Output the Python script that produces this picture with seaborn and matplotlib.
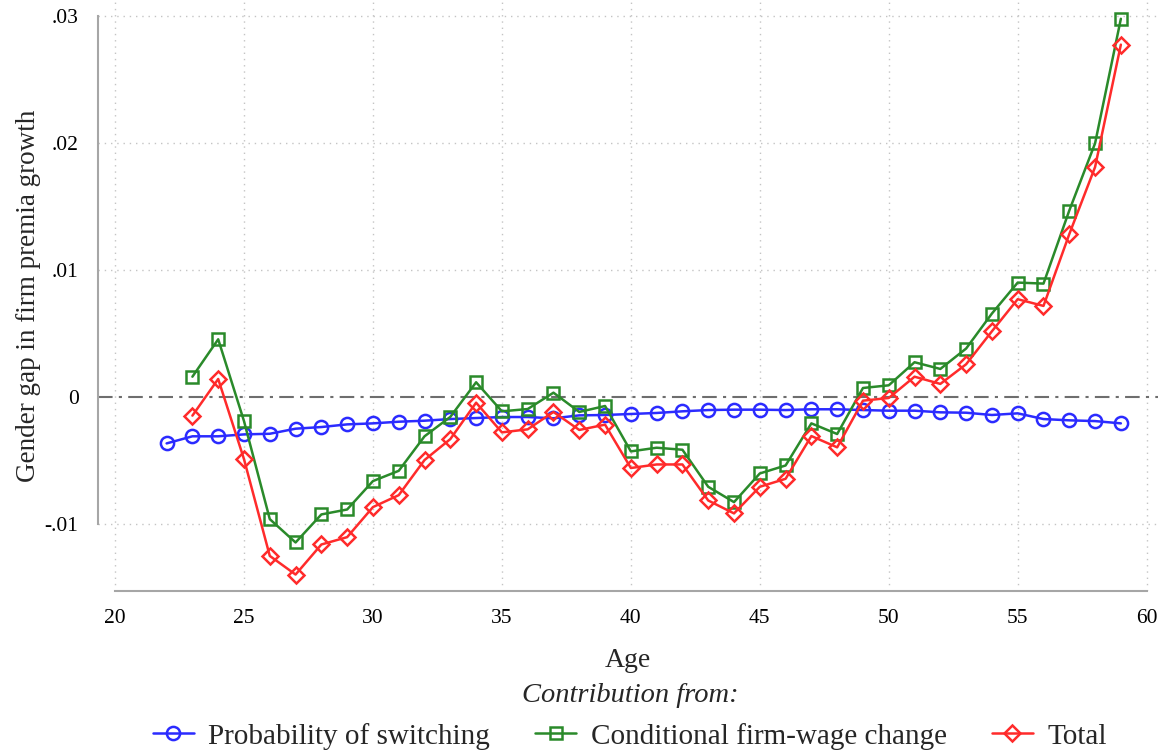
import matplotlib
matplotlib.use("Agg")
import matplotlib.pyplot as plt
from matplotlib.ticker import FuncFormatter
import pandas as pd
import seaborn as sns

# Decomposition of the gender gap in firm-premia growth by age
ages_switch = list(range(22, 60))
ages_cond = list(range(23, 60))

prob_switching = [
    -0.00366, -0.00310, -0.00310, -0.00295, -0.00290, -0.00250, -0.00237, -0.00216,
    -0.00208, -0.00195, -0.00187, -0.00174, -0.00166, -0.00158, -0.00158, -0.00168,
    -0.00145, -0.00142, -0.00134, -0.00126, -0.00113, -0.00103, -0.00100, -0.00100,
    -0.00103, -0.00097, -0.00097, -0.00103, -0.00108, -0.00108, -0.00121, -0.00124,
    -0.00142, -0.00129, -0.00174, -0.00184, -0.00190, -0.00208,
]
cond_wage_change = [
    0.00160, 0.00455, -0.00190, -0.00963, -0.01147, -0.00926, -0.00887, -0.00663,
    -0.00582, -0.00310, -0.00157, 0.00116, -0.00113, -0.00095, 0.00034, -0.00118,
    -0.00071, -0.00429, -0.00400, -0.00416, -0.00708, -0.00829, -0.00603, -0.00540,
    -0.00208, -0.00292, 0.00071, 0.00092, 0.00274, 0.00221, 0.00382, 0.00658,
    0.00902, 0.00894, 0.01470, 0.02000, 0.02982,
]
total = [
    -0.00147, 0.00142, -0.00490, -0.01253, -0.01400, -0.01163, -0.01105, -0.00868,
    -0.00774, -0.00497, -0.00332, -0.00045, -0.00279, -0.00255, -0.00118, -0.00260,
    -0.00218, -0.00560, -0.00532, -0.00532, -0.00816, -0.00918, -0.00708, -0.00645,
    -0.00308, -0.00397, -0.00029, -0.00008, 0.00160, 0.00103, 0.00258, 0.00518,
    0.00771, 0.00718, 0.01284, 0.01813, 0.02778,
]

series_labels = ["Probability of switching", "Conditional firm-wage change", "Total"]
x_ticks = [20, 25, 30, 35, 40, 45, 50, 55, 60]
y_ticks = [-0.01, 0.0, 0.01, 0.02, 0.03]

sns.set_theme(style="white")
plt.rcParams["font.family"] = ["Liberation Serif", "DejaVu Serif"]

fig = plt.figure(figsize=(11.6, 7.51), dpi=100)
ax = fig.add_axes([0.0845, 0.213, 0.914, 0.787])

df_switch = pd.DataFrame({"age": ages_switch, "value": prob_switching})
df_cond = pd.DataFrame({"age": ages_cond, "value": cond_wage_change})
df_total = pd.DataFrame({"age": ages_cond, "value": total})

styles = [
    (df_switch, "#2b2bff", "o", 9.5, series_labels[0]),
    (df_cond, "#2a8a2a", "s", 9.0, series_labels[1]),
    (df_total, "#ff2b2b", "D", 8.5, series_labels[2]),
]

# reference line at zero, underneath the series
ax.axhline(0, color="#6e6e6e", lw=1.5, ls=(0, (7, 3, 1.5, 3)), zorder=1.5)

for data, color, marker, msize, label in styles:
    sns.lineplot(
        data=data, x="age", y="value", ax=ax, color=color, lw=1.8,
        marker=marker, markersize=msize, markerfacecolor="none",
        markeredgecolor=color, markeredgewidth=1.8, label=label, zorder=3,
    )

ax.set_xlim(19.34, 60.45)
ax.set_ylim(-0.0153, 0.0313)
ax.set_xticks(x_ticks)
ax.set_yticks(y_ticks)

def strip_zero(v, pos):
    if abs(v) < 1e-12:
        return "0"
    s = f"{v:.2f}"
    return s.replace("0.", ".", 1)

ax.yaxis.set_major_formatter(FuncFormatter(strip_zero))
ax.xaxis.set_major_formatter(FuncFormatter(lambda v, p: f"{int(v)}"))

# dotted grid
for xv in x_ticks:
    ax.axvline(xv, color="#c4c4c4", lw=1.0, ls=(0, (1, 3.5)), zorder=0.5)
for yv in y_ticks:
    if yv != 0:
        ax.axhline(yv, color="#c4c4c4", lw=1.0, ls=(0, (1, 3.5)), zorder=0.5)

for side in ["top", "right"]:
    ax.spines[side].set_visible(False)
for side in ["left", "bottom"]:
    ax.spines[side].set_color("#a6a6a6")
    ax.spines[side].set_linewidth(1.5)
ax.spines["left"].set_bounds(-0.01, 0.03)
ax.spines["bottom"].set_bounds(20, 60)

ax.tick_params(axis="both", which="both", direction="out", length=10, width=1.5,
               color="#a6a6a6", labelsize=15.5, labelcolor="black")
ax.tick_params(axis="x", pad=3)
ax.tick_params(axis="y", pad=4)

ax.set_ylabel("Gender gap in firm premia growth", fontsize=19.5, labelpad=3)
ax.set_xlabel("Age", fontsize=20)
ax.xaxis.set_label_coords(0.5, -0.097)

handles, labels = ax.get_legend_handles_labels()
ax.get_legend().remove()
leg = fig.legend(
    handles, labels, loc="lower center", bbox_to_anchor=(0.543, -0.033), ncol=3,
    frameon=False, fontsize=21, title="Contribution from:",
    title_fontproperties={"size": 20.5, "style": "italic", "family": "Liberation Serif"},
    handlelength=1.4, columnspacing=1.55, handletextpad=0.5,
)

fig.savefig("out.png", dpi=100, facecolor="white")
